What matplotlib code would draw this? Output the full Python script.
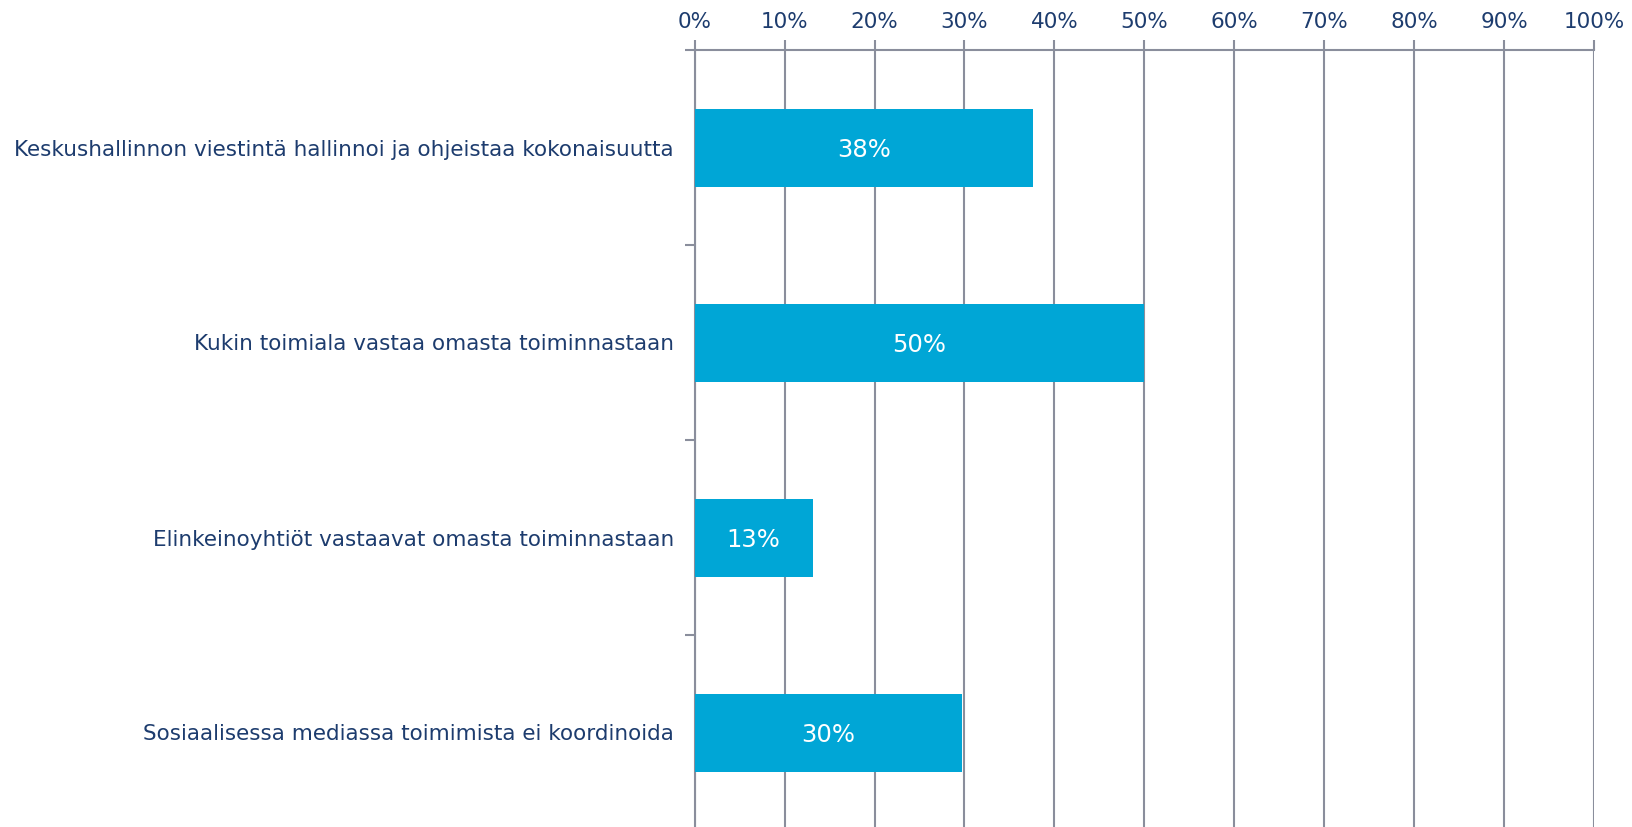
import matplotlib.pyplot as plt
import numpy as np

# kysymys: miten sosiaalisen median viestintää koordinoidaan
categories = [
    "Keskushallinnon viestintä hallinnoi ja ohjeistaa kokonaisuutta",
    "Kukin toimiala vastaa omasta toiminnastaan",
    "Elinkeinoyhtiöt vastaavat omasta toiminnastaan",
    "Sosiaalisessa mediassa toimimista ei koordinoida",
]
values = [0.376, 0.50, 0.131, 0.297]
xticks = np.arange(0, 1.01, 0.1)

bar_col = "#00A6D6"
grid_col = "#8A8E9C"
text_col = "#1D3C6E"

fig = plt.figure(figsize=(16.32, 8.27), dpi=100)
ax = fig.add_axes([694.7 / 1632, -3 / 827, (1594 - 694.7) / 1632, (827 - 50 + 3) / 827])

y = np.arange(len(categories))
bars = ax.barh(y, values, height=0.4, color=bar_col, zorder=3)

for yi, v in zip(y, values):
    ax.text(v / 2, yi, f"{round(v * 100):.0f}%", ha="center", va="center_baseline",
            color="white", fontsize=17.5, zorder=4)

ax.set_xlim(0, 1)
ax.set_ylim(len(categories) - 0.5, -0.5)

# x-akseli ylhäällä
ax.xaxis.tick_top()
ax.set_xticks(xticks)
ax.set_xticklabels([f"{int(round(t * 100))}%" for t in xticks])
ax.tick_params(axis="x", direction="out", length=7, width=1.5, color=grid_col,
               labelsize=15.5, labelcolor=text_col, pad=6)
ax.grid(axis="x", color=grid_col, linewidth=1.5, zorder=0)

# kategoriat vasemmalle, tikit ryhmien rajoille
ax.set_yticks(y)
ax.set_yticklabels(categories)
ax.set_yticks(np.arange(-0.5, len(categories), 1), minor=True)
ax.tick_params(axis="y", which="major", length=0, labelsize=15.5, labelcolor=text_col, pad=15)
ax.tick_params(axis="y", which="minor", direction="out", length=7, width=1.5, color=grid_col)

for s in ["right", "bottom"]:
    ax.spines[s].set_visible(False)
for s in ["top", "left"]:
    ax.spines[s].set_color(grid_col)
    ax.spines[s].set_linewidth(1.5)

fig.savefig("out.png", dpi=100)
